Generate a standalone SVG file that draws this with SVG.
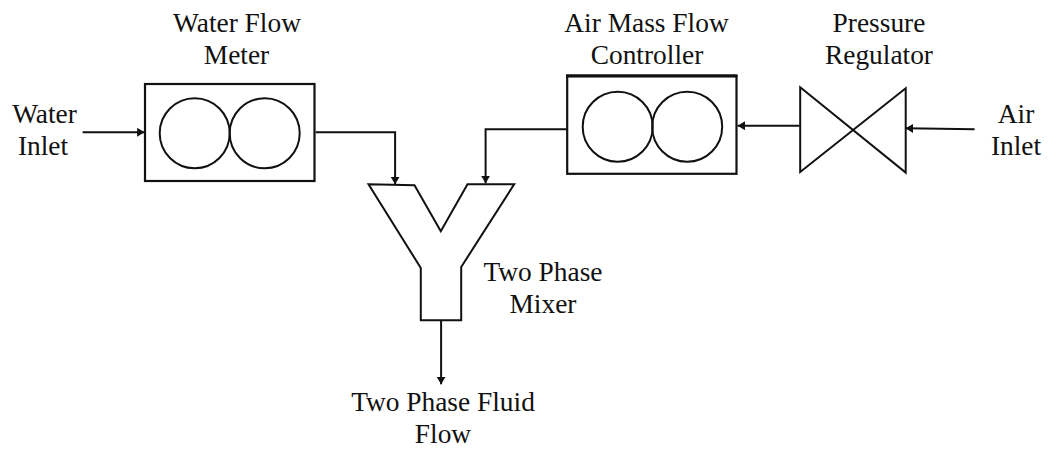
<svg xmlns="http://www.w3.org/2000/svg" width="1050" height="449" viewBox="0 0 1050 449">
<style>
text{font-family:"Liberation Serif","Times New Roman",serif;font-size:27.4px;fill:#111;text-anchor:middle}
.s{fill:none;stroke:#111;stroke-width:2}
.b{fill:none;stroke:#111;stroke-width:2.2}
.c{fill:none;stroke:#111;stroke-width:2;marker-end:url(#a)}
</style>
<defs><marker id="a" markerUnits="userSpaceOnUse" markerWidth="9" markerHeight="10" refX="7.500" refY="4.500" orient="auto"><path d="M0 0L7.500 4.500L0 9Z" fill="#111"/></marker></defs>
<rect width="1050" height="449" fill="#fff"/>
<g id="connectors" transform="translate(0.600 0.300)">
<path class="c" d="M82 132H144"/>
<path class="c" d="M315 132H394.500V184"/>
<path class="c" d="M566 129H485V183"/>
<path class="c" d="M799 125.500H737"/>
<path class="c" d="M974 129L905 128"/>
<path class="c" d="M440.500 320V384"/>
</g>
<g id="water-inlet"><text x="44.500" y="123">Water</text><text x="43" y="155">Inlet</text></g>
<g id="water-flow-meter">
<rect class="b" x="145" y="84" width="169.500" height="97"/>
<circle class="s" cx="194.700" cy="133.300" r="35"/><circle class="s" cx="264.700" cy="133.300" r="35"/>
<text x="237" y="32">Water Flow</text><text x="236.500" y="64">Meter</text>
</g>
<g id="air-mass-flow-controller">
<rect class="b" x="567.200" y="76.300" width="169.300" height="97.500"/>
<path d="M566 75.800H737.500" fill="none" stroke="#111" stroke-width="3"/>
<circle class="s" cx="617.700" cy="126.800" r="35"/><circle class="s" cx="687.200" cy="126.800" r="35"/>
<text x="646.500" y="32">Air Mass Flow</text><text x="647" y="64">Controller</text>
</g>
<g id="pressure-regulator">
<path class="s" d="M800.200 87.300L905.700 172.600V88.300L800.200 172Z"/>
<text x="879" y="32">Pressure</text><text x="879" y="64">Regulator</text>
</g>
<g id="air-inlet"><text x="1016" y="123">Air</text><text x="1016" y="155">Inlet</text></g>
<g id="two-phase-mixer">
<path class="s" d="M368.500 184.300L414.500 185.300L440.800 231.300L467.500 184.300H514.200L461.200 267V320.300H420.800V268Z"/>
<text x="543" y="281">Two Phase</text><text x="543" y="313">Mixer</text>
</g>
<g id="two-phase-fluid-flow"><text x="443" y="411">Two Phase Fluid</text><text x="443" y="443">Flow</text></g>
</svg>
